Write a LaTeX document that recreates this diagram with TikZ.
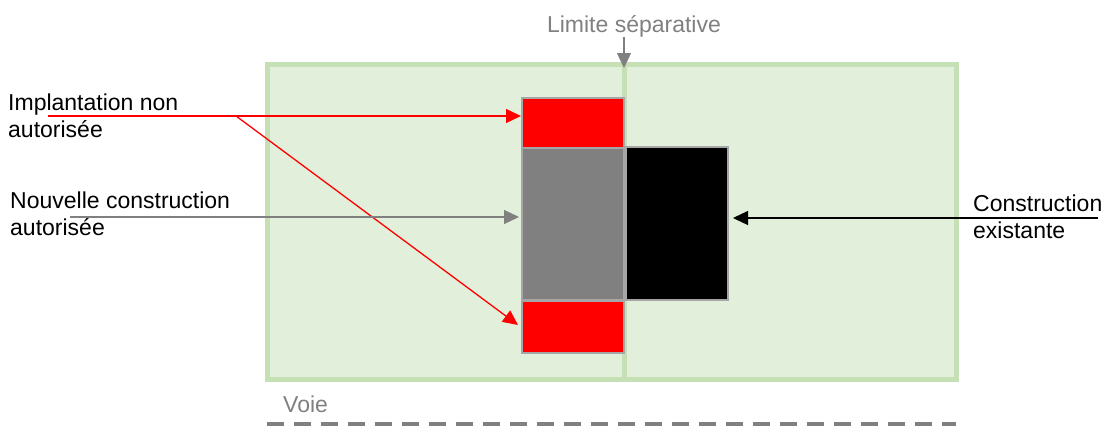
\documentclass[tikz,border=0pt]{standalone}
\usepackage{fontspec}
\setmainfont{Liberation Sans}
\usetikzlibrary{arrows.meta,calc}
\definecolor{lotfill}{HTML}{E2EFDA}
\definecolor{lotline}{HTML}{C5E0B4}
\definecolor{boxline}{HTML}{A6A6A6}
\definecolor{midgray}{HTML}{808080}
\definecolor{redfill}{HTML}{FF0000}
\tikzset{
  bldg/.style={draw=boxline, line width=2pt, minimum width=102pt, inner sep=0pt},
  lbl/.style={font=\fontsize{23}{27}\selectfont, align=left, inner sep=0pt, anchor=north west},
  conn/.style={line width=1.3pt, -{Triangle[length=15pt,width=14pt]}},
}
\begin{document}
\begin{tikzpicture}[x=1pt,y=-1pt]
\useasboundingbox (0,0) rectangle (1106,426);
% lot
\draw[lotline, fill=lotfill, line width=5pt] (267,64) rectangle (956,379);
\draw[lotline, line width=5pt] (624,64) -- (624,379);
% buildings
\node[bldg, fill=redfill, minimum height=50pt] (red1) at (573,123) {};
\node[bldg, fill=midgray, minimum height=152pt] (grey) at (573,224) {};
\node[bldg, fill=redfill, minimum height=52pt] (red2) at (573,327) {};
\node[bldg, fill=black, minimum height=153pt] (blk) at (677,223.5) {};
% labels
\node[lbl, text=midgray, anchor=base] (lim) at (634,32) {Limite séparative};
\node[lbl] (impl) at (8,94) {Implantation non\\autorisée};
\node[lbl] (nouv) at (10,192) {Nouvelle construction\\autorisée};
\node[lbl] (exist) at (973,195) {Construction\\existante};
\node[lbl, text=midgray, anchor=base west] (voie) at (283,412) {Voie};
% connectors
\coordinate (limA) at (624,37);
\coordinate (limB) at (624,68);
\draw[conn, midgray] (limA) -- (limB);
\coordinate (implA) at (48,116);
\coordinate (implB) at (236,116);
\draw[conn, red] (implA) -- (implA -| red1.west);
\draw[conn, red] (implB) -- ($(red2.west)+(-3,-2)$);
\coordinate (nouvA) at (70,217);
\draw[conn, midgray] (nouvA) -- ($(nouvA -| grey.west)+(-2,0)$);
\coordinate (exA) at (1098,218);
\draw[conn, black, shorten >=4pt] (exA) -- (exA -| blk.east);
% road
\coordinate (roadA) at (267,424);
\coordinate (roadB) at (956,424);
\draw[midgray, line width=4pt, dash pattern=on 17pt off 10pt] (roadA) -- (roadB);
\end{tikzpicture}
\end{document}
